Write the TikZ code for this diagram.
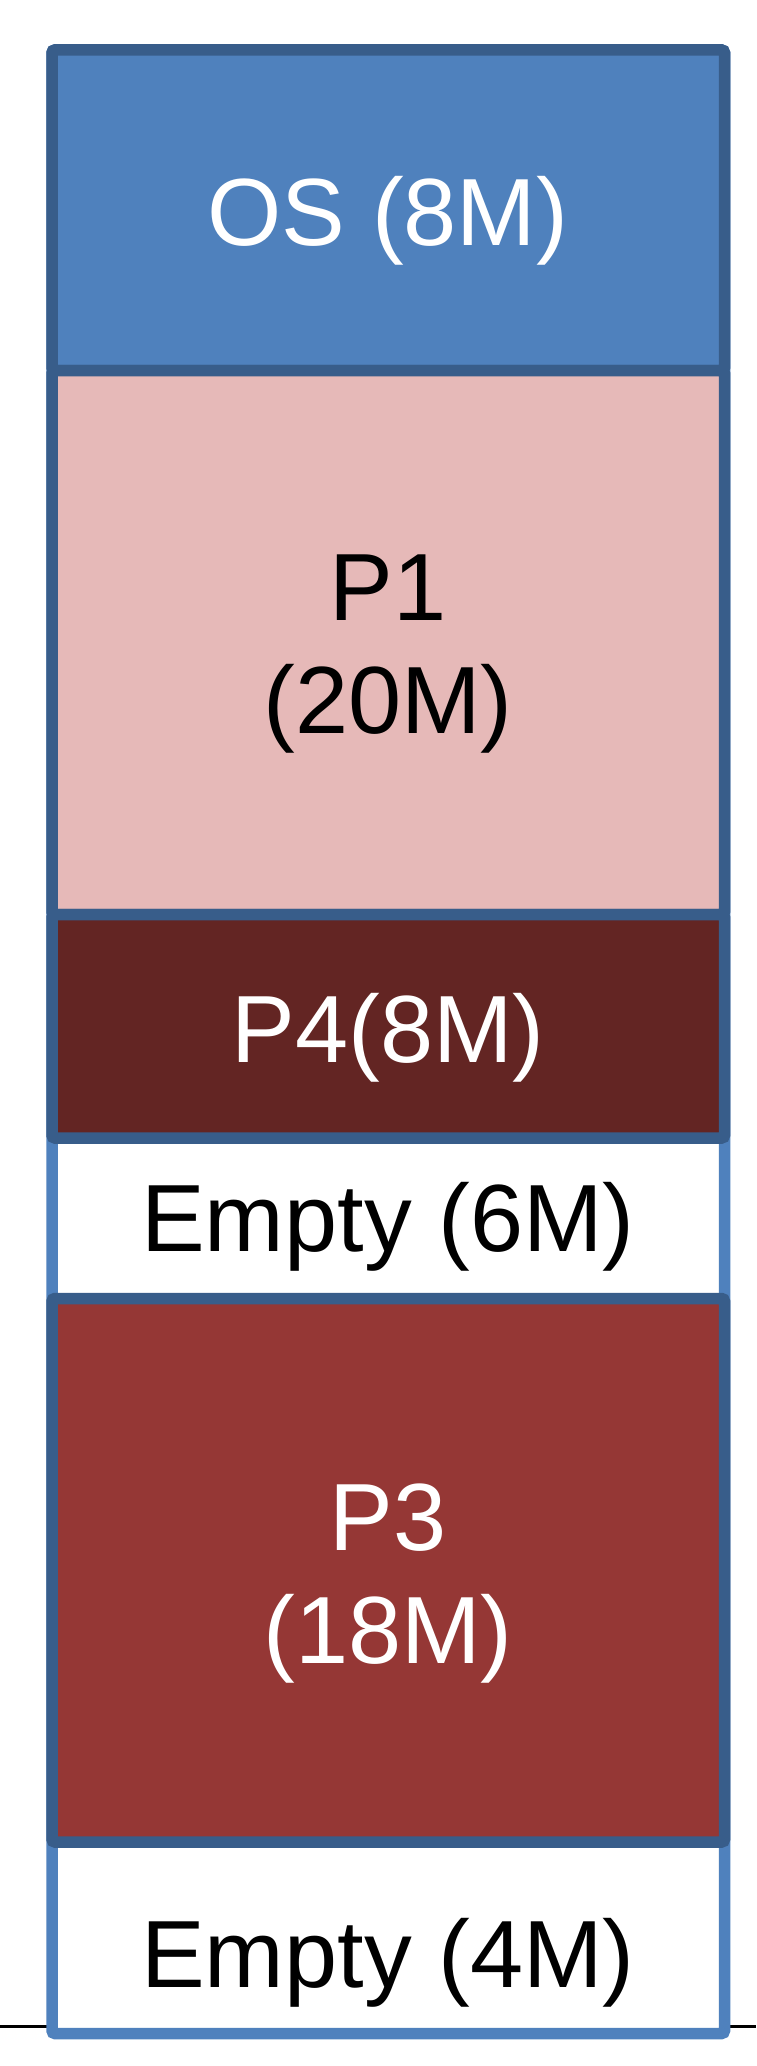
\documentclass[tikz,border=0pt]{standalone}
\usepackage{fontspec}
\setmainfont{Liberation Sans}
\definecolor{osblue}{RGB}{79,129,189}
\definecolor{edgeblue}{RGB}{56,93,138}
\definecolor{pinkfill}{RGB}{230,185,184}
\definecolor{p4fill}{RGB}{99,37,35}
\definecolor{p3fill}{RGB}{149,55,53}
\tikzset{
  memblock/.style={draw=edgeblue, line width=11.5pt, rounded corners=3pt},
  frame/.style={draw=osblue, line width=11.5pt, rounded corners=3pt, fill=white},
  lbl/.style={font=\fontsize{95.5}{113}\selectfont, align=center, inner sep=0pt, anchor=base},
}
\begin{document}
\begin{tikzpicture}[x=1pt,y=-1pt]
\useasboundingbox (0,0) rectangle (756,2066);
\fill[white] (0,0) rectangle (756,2066);
\coordinate (lineL) at (0,2026);
\coordinate (lineR) at (756,2026);
\draw[black, line width=3pt] (lineL) -- (lineR);
\draw[frame] (52,50) rectangle (724.5,2033.5);
\draw[memblock, fill=osblue] (52,50) rectangle (724.5,370.5);
\draw[memblock, fill=pinkfill] (52,370.5) rectangle (724.5,914.5);
\draw[memblock, fill=p4fill] (52,914.5) rectangle (724.5,1138);
\draw[memblock, fill=p3fill] (52,1298.5) rectangle (724.5,1842);
\node[lbl, text=white] (os) at (388,245) {OS (8M)};
\node[lbl, text=black] (p1) at (388,733) {P1\\(20M)};
\node[lbl, text=white] (p4) at (388,1062) {P4(8M)};
\node[lbl, text=black] (e6) at (388,1251) {Empty (6M)};
\node[lbl, text=white] (p3) at (388,1663) {P3\\(18M)};
\node[lbl, text=black] (e4) at (388,1987) {Empty (4M)};
\end{tikzpicture}
\end{document}
